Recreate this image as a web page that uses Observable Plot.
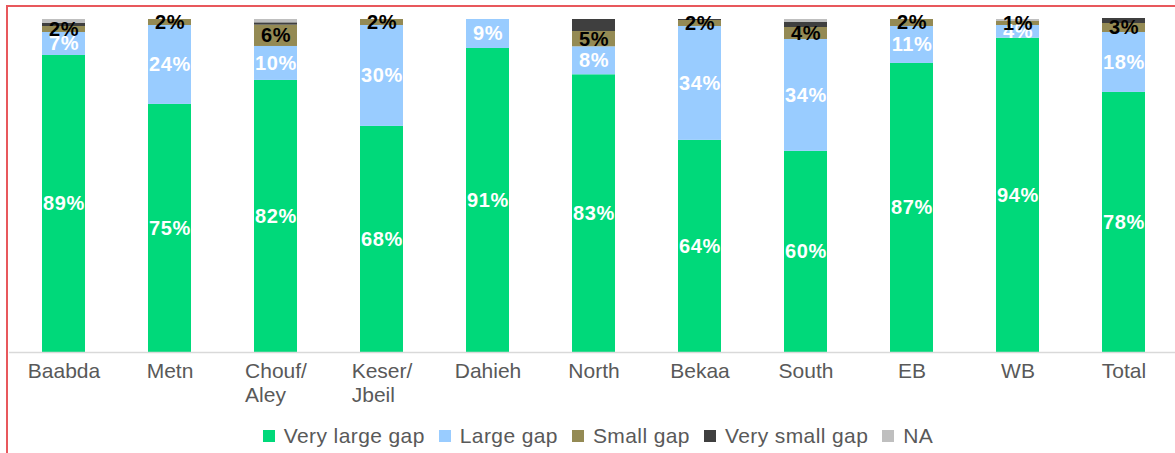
<!DOCTYPE html>
<html>
<head>
<meta charset="utf-8">
<script src="https://cdn.jsdelivr.net/npm/d3@7"></script>
<script src="https://cdn.jsdelivr.net/npm/@observablehq/plot@0.6"></script>
<style>
  html, body { margin: 0; padding: 0; background: #fff; }
  #wrap { position: relative; width: 1175px; height: 453px; overflow: hidden; font-family: "Liberation Sans", Arial, sans-serif; }
  #frame { position: absolute; left: 6px; top: 5px; width: 1175px; height: 460px; border-top: 2px solid #E8585C; border-left: 2px solid #E8585C; box-sizing: border-box; }
  #chart { position: absolute; left: 0; top: 0; }
  #legend { position: absolute; top: 424px; left: 0; width: 1196px; display: flex; justify-content: center; align-items: center; font-size: 21px; letter-spacing: 0.4px; color: #595959; }
  .item { display: flex; align-items: center; margin: 0 7px; }
  .sw { width: 12px; height: 12px; margin-right: 9px; }
</style>
</head>
<body>
<div id="wrap">
  <div id="frame"></div>
  <div id="chart"></div>
  <div id="legend"></div>
</div>
<script>
const categories = ["Baabda", "Metn", "Chouf/Aley", "Keser/Jbeil", "Dahieh", "North", "Bekaa", "South", "EB", "WB", "Total"];
const seriesNames = ["Very large gap", "Large gap", "Small gap", "Very small gap", "NA"];
const colors = ["#00D97A", "#99CCFF", "#948A54", "#3F3F3F", "#BFBFBF"];

const veryLargeGap = [89.2, 74.5, 81.7, 67.9, 91.3, 83.4, 63.7, 60.4, 86.8, 94.4, 78.1];
const largeGap     = [6.9, 23.7, 10.2, 30.3, 8.7, 8.4, 34.2, 33.6, 11.1, 3.8, 18.0];
const smallGap     = [1.8, 1.8, 6.4, 1.8, 0, 4.6, 1.8, 3.6, 2.1, 1.2, 2.7];
const verySmallGap = [0.9, 0, 0.7, 0, 0, 3.6, 0.3, 1.5, 0, 0, 1.5];
const na           = [1.2, 0, 1.0, 0, 0, 0, 0, 0.9, 0, 0.6, 0];

const seriesValues = [veryLargeGap, largeGap, smallGap, verySmallGap, na];
const rows = [];
categories.forEach((c, i) => {
  seriesNames.forEach((s, j) => {
    rows.push({cat: c, series: s, value: seriesValues[j][i]});
  });
});

const pct = v => Math.round(v) + "%";
const labelWhite = d => (d.series === "Very large gap" || d.series === "Large gap") && d.value > 0 ? pct(d.value) : "";
const labelBlack = d => d.series === "Small gap" && d.value > 0 ? pct(d.value) : "";

const firstLine = d => d.includes("/") ? d.split("/")[0] + "/" : d;
const secondLine = d => d.includes("/") ? d.split("/")[1] : "";

const chart = Plot.plot({
  width: 1175,
  height: 420,
  marginTop: 19,
  marginBottom: 68,
  marginLeft: 9,
  marginRight: 0,
  style: {fontFamily: "'Liberation Sans', Arial, sans-serif", background: "transparent"},
  x: {domain: categories, range: [9, 1178], paddingInner: 0.595, paddingOuter: 0.2975, axis: null},
  y: {domain: [0, 100], axis: null},
  color: {domain: seriesNames, range: colors},
  marks: [
    Plot.barY(rows, {x: "cat", y: "value", z: "series", fill: "series", order: seriesNames}),
    Plot.text(rows, Plot.stackY({x: "cat", y: "value", z: "series", order: seriesNames, text: labelWhite, fill: "white", fontWeight: "bold", fontSize: 20})),
    Plot.text(rows, Plot.stackY({x: "cat", y: "value", z: "series", order: seriesNames, text: labelBlack, fill: "black", fontWeight: "bold", fontSize: 20})),
    Plot.ruleY([0], {stroke: "#D9D9D9", strokeWidth: 1.5}),
    Plot.axisX({tickSize: 0, tickPadding: 11, fontSize: 21, color: "#595959", label: null, tickFormat: firstLine}),
    Plot.text(["Chouf/Aley"], {x: d => d, text: secondLine, frameAnchor: "bottom", lineAnchor: "top", dy: 35, dx: -10.5, fontSize: 21, fill: "#595959"}),
    Plot.text(["Keser/Jbeil"], {x: d => d, text: secondLine, frameAnchor: "bottom", lineAnchor: "top", dy: 35, dx: -8.7, fontSize: 21, fill: "#595959"})
  ]
});
d3.select(chart).selectAll('g[font-weight="bold"]').attr("letter-spacing", "0.6px");
document.getElementById("chart").appendChild(chart);

const legend = document.getElementById("legend");
seriesNames.forEach((s, j) => {
  const item = document.createElement("div");
  item.className = "item";
  const sw = document.createElement("div");
  sw.className = "sw";
  sw.style.background = colors[j];
  const t = document.createElement("span");
  t.textContent = s;
  item.appendChild(sw);
  item.appendChild(t);
  legend.appendChild(item);
});
</script>
</body>
</html>
